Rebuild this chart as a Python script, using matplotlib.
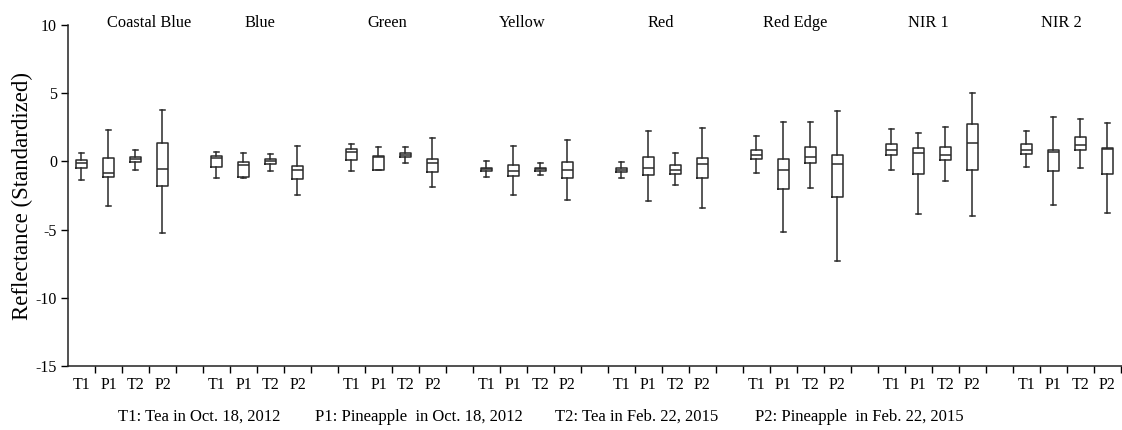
import matplotlib
matplotlib.use("Agg")
import matplotlib.pyplot as plt
import numpy as np

plt.rcParams['font.family'] = ['Liberation Serif', 'DejaVu Serif']

bands = ["Coastal Blue", "Blue", "Green", "Yellow", "Red", "Red Edge", "NIR 1", "NIR 2"]
groups = ["T1", "P1", "T2", "P2"]
legend_items = ["T1: Tea in Oct. 18, 2012", "P1: Pineapple  in Oct. 18, 2012",
                "T2: Tea in Feb. 22, 2015", "P2: Pineapple  in Feb. 22, 2015"]

# per band, order T1, P1, T2, P2
whisker_low = [-1.37, -3.24, -0.61, -5.25,
               -1.23, -1.22, -0.69, -2.45,
               -0.69, -0.66, -0.15, -1.91,
               -1.15, -2.47, -0.98, -2.84,
               -1.23, -2.92, -1.76, -3.38,
               -0.83, -5.17, -1.93, -7.33,
               -0.61, -3.85, -1.45, -4.02,
               -0.39, -3.16, -0.47, -3.77]
q1 = [-0.51, -1.15, -0.05, -1.84,
      -0.39, -1.18, -0.22, -1.32,
      0.07, -0.64, 0.29, -0.76,
      -0.69, -1.08, -0.69, -1.23,
      -0.76, -1.00, -0.93, -1.23,
      0.15, -2.01, -0.15, -2.62,
      0.47, -0.93, 0.07, -0.61,
      0.54, -0.69, 0.86, -0.93]
median = [-0.12, -0.86, 0.15, -0.54,
          0.25, -0.27, 0.00, -0.66,
          0.69, 0.30, 0.47, -0.12,
          -0.59, -0.74, -0.59, -0.66,
          -0.61, -0.47, -0.66, -0.20,
          0.49, -0.61, 0.32, -0.22,
          0.86, 0.64, 0.47, 1.35,
          0.86, 0.71, 1.18, 0.88]
q3 = [0.07, 0.22, 0.29, 1.32,
      0.37, -0.05, 0.17, -0.32,
      0.93, 0.39, 0.64, 0.15,
      -0.47, -0.25, -0.47, -0.05,
      -0.47, 0.32, -0.29, 0.25,
      0.83, 0.15, 1.08, 0.47,
      1.25, 1.01, 1.08, 2.77,
      1.25, 0.86, 1.79, 1.01]
whisker_high = [0.64, 2.33, 0.86, 3.80,
                0.71, 0.64, 0.56, 1.15,
                1.25, 1.08, 1.08, 1.72,
                0.03, 1.15, -0.15, 1.54,
                -0.05, 2.23, 0.64, 2.48,
                1.86, 2.87, 2.87, 3.73,
                2.40, 2.11, 2.55, 5.05,
                2.26, 3.26, 3.09, 2.79]

W, H = 1122, 430
fig = plt.figure(figsize=(W / 100, H / 100), dpi=100)
ax = fig.add_axes([68 / W, 1 - 366 / H, 1 - 68 / W, (366 - 25) / H])

n_bands = len(bands)
n_g = len(groups)
slot = n_g + 1
positions = []
labels = []
stats = []
for b in range(n_bands):
    for g in range(n_g):
        i = b * n_g + g
        positions.append(b * slot + g + 1)
        labels.append(groups[g])
        stats.append(dict(whislo=whisker_low[i], q1=q1[i], med=median[i],
                          q3=q3[i], whishi=whisker_high[i], fliers=[]))

lc = '#2a2a2a'
ax.bxp(stats, positions=positions, widths=0.4, showfliers=False,
       boxprops=dict(color=lc, linewidth=1.1),
       medianprops=dict(color=lc, linewidth=1.1),
       whiskerprops=dict(color=lc, linewidth=1.1),
       capprops=dict(color=lc, linewidth=1.1),
       manage_ticks=False)

ax.set_xlim(0.5, 39.54)
ax.set_ylim(-15, 10)
ax.set_yticks([-15, -10, -5, 0, 5, 10])
ax.set_yticklabels(["-15", "-10", "-5", "0", "5", "10"])
ax.set_xticks(positions)
ax.set_xticklabels(labels)
ax.set_xticks(np.arange(1.5, 39.6, 1.0), minor=True)
ax.tick_params(axis='x', which='major', length=0, pad=8, labelsize=11.5)
ax.tick_params(axis='x', which='minor', length=5, direction='out', width=1)
ax.tick_params(axis='y', which='major', length=5, direction='out', width=1, pad=3, labelsize=11.5)
for s in ['top', 'right']:
    ax.spines[s].set_visible(False)
for s in ['left', 'bottom']:
    ax.spines[s].set_linewidth(1.1)
    ax.spines[s].set_color('#222222')

ax.set_ylabel("Reflectance (Standardized)", fontsize=16.5, labelpad=2)

label_x = [3.50, 7.60, 12.31, 17.32, 22.46, 27.43, 32.35, 37.30]
for name, lx in zip(bands, label_x):
    ax.text(lx, 10.15, name, ha='center', va='center', fontsize=11.8, clip_on=False)

legend_x = [118, 315, 555, 755]
for txt, lx in zip(legend_items, legend_x):
    fig.text(lx / W, 1 - 417 / H, txt, ha='left', va='center', fontsize=12)

fig.savefig("out.png", dpi=100)
